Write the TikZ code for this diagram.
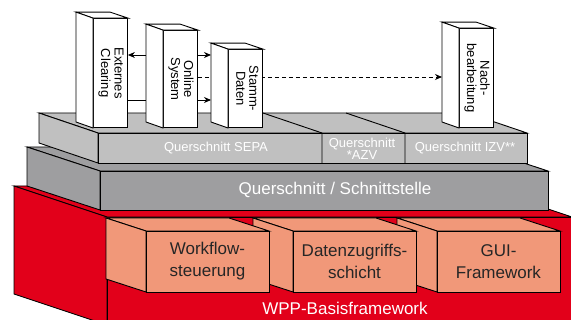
\documentclass[tikz,border=0pt]{standalone}
\usepackage{fontspec}
\setmainfont{Liberation Sans}
\usetikzlibrary{arrows.meta}

\definecolor{wppred}{RGB}{226,0,26}
\definecolor{modul}{RGB}{241,152,121}
\definecolor{qlight}{RGB}{192,192,192}
\definecolor{qdark}{RGB}{158,158,160}

% front face x1,y1,x2,y2 / depth dx,dy / fill
\newcommand{\slab}[7]{%
  \filldraw[fill=#7] (#1,#2) -- (#3,#2) -- ++(-#5,-#6) -- (#1-#5,#2-#6) -- cycle;
  \filldraw[fill=#7] (#1,#2) -- (#1-#5,#2-#6) -- (#1-#5,#4-#6) -- (#1,#4) -- cycle;
  \filldraw[fill=#7] (#1,#2) rectangle (#3,#4);}
\newcommand{\pillarfaces}[1]{%
  \filldraw[fill=white] (#1.north west) -- ++(-17,-6) -- ++(34,0) -- (#1.north east) -- cycle;
  \filldraw[fill=white] (#1.north west) -- ++(-17,-6) -- ([shift={(-17,-6)}]#1.south west) -- (#1.south west) -- cycle;
  \coordinate (#1-back) at ([xshift=-17pt]#1.west);}
\newcommand{\vtext}[1]{\rotatebox{-90}{\begin{tabular}{@{}c@{}}#1\end{tabular}}}

\tikzset{
  pillar/.style={draw, fill=white, anchor=south west, minimum width=34pt, inner sep=0pt,
    font=\fontsize{13}{13}\selectfont},
  qtext/.style={text=white, inner sep=0pt, align=center, font=\fontsize{13}{12}\selectfont},
  bigtext/.style={text=white, inner sep=0pt, font=\fontsize{17}{20}\selectfont},
  modtext/.style={text=black!85, inner sep=0pt, align=center, font=\fontsize{17}{22}\selectfont},
}

\begin{document}
\begin{tikzpicture}[x=1pt, y=-1pt, line width=0.9pt, >={Stealth[length=7pt,width=6pt]}]
\clip (0,0) rectangle (571,320);

% base
\slab{107}{217}{572}{325}{93}{31}{wppred}
\node[bigtext] (wpp) at (345,308) {WPP-Basisframework};
\foreach \x/\nm/\lbl in {437/gui/{GUI-\\Framework}, 293/dzs/{Datenzugriffs-\\schicht}, 146/wfs/{Workflow-\\steuerung}} {
  \slab{\x}{231}{\x+123}{292}{40}{13}{modul}
  \node[modtext] (\nm) at (\x+61.5,261.5) {\lbl};
}

% cross sections
\slab{100}{171}{548}{210}{73}{24}{qdark}
\node[bigtext] (qs) at (335,190) {Querschnitt / Schnittstelle};
\slab{98}{133}{527}{163}{59}{20}{qlight}
\foreach \x in {322,405}
    \draw (\x,163) -- (\x,133) -- ++(-59,-20);
\node[qtext] (sepa) at (216,148) {Querschnitt SEPA};
\node[qtext] (azv) at (362,149) {Querschnitt\\*AZV};
\node[qtext] (izv) at (465,148) {Querschnitt IZV**};

% systems
\coordinate (hi) at (0,55);
\coordinate (mid) at (0,77);
\coordinate (lo) at (0,100);
\node[pillar, minimum height=109pt] (ext) at (93,128) {\vtext{Externes\\Clearing}};
\pillarfaces{ext}
\node[pillar, minimum height=97pt] (onl) at (163,128) {\vtext{Online\\System}};
\pillarfaces{onl}
\node[pillar, minimum height=99pt] (nach) at (459,128) {\vtext{Nach-\\bearbeitung}};
\pillarfaces{nach}
\draw[->, dash pattern=on 4pt off 3pt] (onl.east |- mid) -- (nach-back |- mid);
\node[pillar, minimum height=78pt] (stm) at (228,128) {\vtext{Stamm-\\Daten}};
\pillarfaces{stm}

\draw[->] (onl-back |- hi) -- (ext.east |- hi);
\draw (ext.east |- lo) -- (onl-back |- lo);
\draw[->] (onl.east |- hi) -- (stm-back |- hi);
\draw[->] (onl.east |- lo) -- (stm-back |- lo);
\end{tikzpicture}
\end{document}
